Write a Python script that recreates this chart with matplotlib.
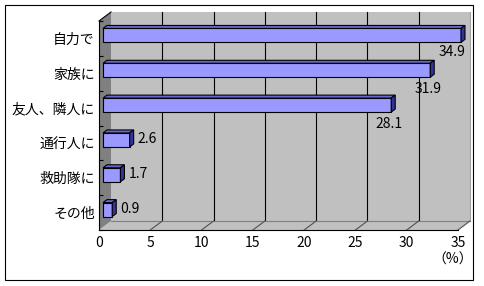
import matplotlib
matplotlib.use('Agg')
import matplotlib.pyplot as plt
from matplotlib.patches import Polygon, Rectangle

plt.rcParams['font.family'] = ['Noto Sans CJK JP', 'DejaVu Sans']

# data (bottom row first)
categories = ['その他', '救助隊に', '通行人に', '友人、隣人に', '家族に', '自力で']
values = [0.9, 1.7, 2.6, 28.1, 31.9, 34.9]
xticks = [0, 5, 10, 15, 20, 25, 30, 35]
xmax = 35

W, H = 484, 286
fs = 10
fig = plt.figure(figsize=(W / 100, H / 100), dpi=100)

# front plane of the 3d box, in pixels
L, R, B, T = 99, 458, 230, 21
ax = fig.add_axes([L / W, 1 - B / H, (R - L) / W, (B - T) / H])
ax.set_xlim(0, xmax)
ax.set_ylim(-0.5, len(categories) - 0.5)

sx = (R - L) / xmax
sy = (B - T) / len(categories)
def px_x(p):
    return p / sx
def px_y(p):
    return p / sy

ytop = len(categories) - 0.5
WX, WY = px_x(12), px_y(9)   # wall depth
BX0, BY0 = px_x(4), px_y(3)  # bar front offset
BX, BY = px_x(4), px_y(3)    # bar depth
h = 0.4
lw = 0.8

# back wall
ax.add_patch(Rectangle((WX, -0.5 + WY), xmax, len(categories), fc='#C0C0C0', ec='none',
                       zorder=0, clip_on=False))
ax.plot([xmax + WX] * 2, [-0.5 + WY, ytop + WY], color='#A0A0A0', lw=lw, clip_on=False, zorder=0.5)
for x in xticks[1:-1]:
    ax.plot([x + WX] * 2, [-0.5 + WY, ytop + WY], color='black', lw=lw, clip_on=False, zorder=0.6)

# floor
ax.add_patch(Polygon([(0, -0.5), (xmax, -0.5), (xmax + WX, -0.5 + WY), (WX, -0.5 + WY)],
                     closed=True, fc='#C0C0C0', ec='none', zorder=0.7, clip_on=False))
ax.plot([WX, xmax + WX], [-0.5 + WY] * 2, color='#808080', lw=lw, clip_on=False, zorder=0.8)
for x in xticks[1:]:
    ax.plot([x, x + WX], [-0.5, -0.5 + WY], color='#505050', lw=lw, clip_on=False, zorder=0.8)

# left wall
ax.add_patch(Polygon([(0, -0.5), (0, ytop), (WX, ytop + WY), (WX, -0.5 + WY)],
                     closed=True, fc='#808080', ec='none', zorder=0.9, clip_on=False))
ax.plot([0, WX], [ytop, ytop + WY], color='black', lw=lw, clip_on=False, zorder=1)

# bars
for i, v in enumerate(values):
    y0 = i - h / 2 + BY0
    y1 = i + h / 2 + BY0
    ax.add_patch(Rectangle((BX0, y0), v, h, fc='#9999FF', ec='black', lw=lw, zorder=3,
                           clip_on=False))
    ax.add_patch(Polygon([(BX0, y1), (BX0 + v, y1), (BX0 + v + BX, y1 + BY), (BX0 + BX, y1 + BY)],
                         closed=True, fc='#6666CC', ec='black', lw=lw, zorder=3, clip_on=False))
    ax.add_patch(Polygon([(BX0 + v, y0), (BX0 + v + BX, y0 + BY), (BX0 + v + BX, y1 + BY), (BX0 + v, y1)],
                         closed=True, fc='#333399', ec='black', lw=lw, zorder=3, clip_on=False))
    if v > 10:
        if v > 33:
            ax.annotate(f'{v}', (BX0 + v + BX, i + BY0), xytext=(1, -17), textcoords='offset pixels',
                        ha='right', va='center', fontsize=fs, zorder=4, annotation_clip=False)
        else:
            ax.annotate(f'{v}', (BX0 + v, i + BY0), xytext=(-2, -19), textcoords='offset pixels',
                        ha='center', va='center', fontsize=fs, zorder=4, annotation_clip=False)
    else:
        ax.annotate(f'{v}', (BX0 + v + BX, i + BY0), xytext=(4, 1), textcoords='offset pixels',
                    ha='left', va='center', fontsize=fs, zorder=4, annotation_clip=False)

# axes
for s in ['top', 'right']:
    ax.spines[s].set_visible(False)
for s in ['left', 'bottom']:
    ax.spines[s].set_linewidth(lw)
    ax.spines[s].set_zorder(2)
ax.set_xticks(xticks)
ax.set_xticklabels([str(t) for t in xticks], fontsize=fs)
ax.set_yticks(range(len(categories)))
ax.set_yticklabels(categories, fontsize=fs)
ax.set_yticks([k + 0.5 for k in range(-1, len(categories))], minor=True)
ax.tick_params(axis='x', length=0, pad=4)
ax.tick_params(axis='y', which='major', length=0, pad=3)
ax.tick_params(axis='y', which='minor', length=3, width=lw, direction='in')
ax.patch.set_visible(False)

fig.text(453 / W, 1 - 260 / H, '（%）', ha='center', va='center', fontsize=fs)

# outer frame
fig.add_artist(Rectangle((5 / W, 1 - 280 / H), 468 / W, 275 / H, transform=fig.transFigure,
                         fill=False, ec='black', lw=lw))

fig.savefig('out.png', dpi=100)
